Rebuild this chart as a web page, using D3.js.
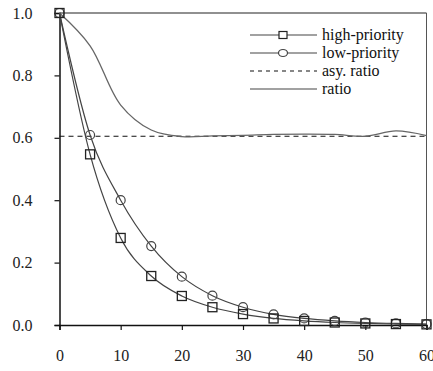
<!DOCTYPE html>
<html><head><meta charset="utf-8"><script src="https://cdn.jsdelivr.net/npm/d3@7"></script></head>
<body style="margin:0">
<svg id="chart" width="433" height="371" font-family="Liberation Serif" style="display:block;background:#fff"></svg>
<script>
// Time steps (x axis)
const steps = [0, 5, 10, 15, 20, 25, 30, 35, 40, 45, 50, 55, 60];
// Fraction remaining for each priority class
const highPriority = [1.0, 0.547, 0.279, 0.157, 0.093, 0.057, 0.035, 0.021, 0.013, 0.008, 0.005, 0.003, 0.002];
const lowPriority  = [1.0, 0.609, 0.400, 0.253, 0.155, 0.094, 0.057, 0.034, 0.021, 0.013, 0.008, 0.005, 0.003];
// Ratio of high to low priority, and its asymptotic value
const ratio = [1.0, 0.895, 0.705, 0.625, 0.604, 0.606, 0.608, 0.611, 0.612, 0.611, 0.605, 0.622, 0.607];
const asyRatio = 0.605;
// Tick labels
const xTicks = [0, 10, 20, 30, 40, 50, 60];
const yTicks = [0.0, 0.2, 0.4, 0.6, 0.8, 1.0];
const legendLabels = ["high-priority", "low-priority", "asy. ratio", "ratio"];

const svg = d3.select("#chart");
const x = d3.scaleLinear().domain([0, 60]).range([59.5, 426.5]);
const y = d3.scaleLinear().domain([0, 1]).range([325, 13]);

// Plot frame: top and right edges
svg.append("line").attr("x1", x(0)).attr("x2", x(60)).attr("y1", y(1)).attr("y2", y(1))
  .attr("stroke", "#222").attr("stroke-width", 1.2);
svg.append("line").attr("x1", x(60)).attr("x2", x(60)).attr("y1", y(1)).attr("y2", y(0))
  .attr("stroke", "#555").attr("stroke-width", 1);

// Axes
const xAxis = svg.append("g").attr("transform", `translate(0,${y(0)})`)
  .call(d3.axisBottom(x).tickValues(xTicks).tickSize(5).tickPadding(20).tickFormat(d3.format("d")));
const yAxis = svg.append("g").attr("transform", `translate(${x(0)},0)`)
  .call(d3.axisLeft(y).tickValues(yTicks).tickSize(5).tickPadding(22).tickFormat(d3.format(".1f")));
[xAxis, yAxis].forEach(g => {
  g.attr("font-family", "Liberation Serif").attr("font-size", 16);
  g.select(".domain").attr("stroke", "#111").attr("stroke-width", 1.5);
  g.selectAll(".tick line").attr("stroke", "#111").attr("stroke-width", 1.2);
  g.selectAll("text")
    .attr("font-family", "Liberation Serif")
    .style("font-family", "'Times New Roman'")
    .style("font-size", "16px").attr("fill", "#222");
});

const lineColor = "#444";

// Asymptotic ratio (dashed)
svg.append("line").attr("x1", x(0)).attr("x2", x(60)).attr("y1", y(asyRatio)).attr("y2", y(asyRatio))
  .attr("stroke", "#111").attr("stroke-width", 1.2).attr("stroke-dasharray", "5,4");

// Ratio (smoothed)
const smooth = d3.line().x((d, i) => x(steps[i])).y(d => y(d)).curve(d3.curveCatmullRom.alpha(0.5));
svg.append("path").datum(ratio).attr("d", smooth)
  .attr("fill", "none").attr("stroke", "#666").attr("stroke-width", 1.3);

// Priority series
const straight = d3.line().x((d, i) => x(steps[i])).y(d => y(d)).curve(d3.curveMonotoneX);
[lowPriority, highPriority].forEach(series => {
  svg.append("path").datum(series).attr("d", straight)
    .attr("fill", "none").attr("stroke", lineColor).attr("stroke-width", 1.2);
});

// Markers
svg.append("g").selectAll("circle").data(lowPriority).join("circle")
  .attr("cx", (d, i) => x(steps[i])).attr("cy", d => y(d)).attr("r", 4.5)
  .attr("fill", "none").attr("stroke", lineColor).attr("stroke-width", 1.2);
svg.append("g").selectAll("rect").data(highPriority).join("rect")
  .attr("x", (d, i) => x(steps[i]) - 4.5).attr("y", d => y(d) - 4.5)
  .attr("width", 9).attr("height", 9)
  .attr("fill", "none").attr("stroke", "#222").attr("stroke-width", 1.3);

// Legend
const legend = svg.append("g");
const rowY = [35, 53, 71, 89];
legend.selectAll("text").data(legendLabels).join("text")
  .attr("x", 322).attr("y", (d, i) => rowY[i] + 5)
  .attr("font-family", "Liberation Serif")
  .style("font-family", "'Times New Roman'").style("font-size", "16px")
  .attr("fill", "#111").text(d => d);
legendLabels.forEach((label, i) => {
  const ly = rowY[i];
  const ln = legend.append("line").attr("x1", 250).attr("x2", 317).attr("y1", ly).attr("y2", ly)
    .attr("stroke", i === 2 ? "#111" : "#444").attr("stroke-width", 1.2);
  if (i === 2) ln.attr("stroke-dasharray", "4,4");
  if (i === 0) legend.append("rect").attr("x", 279).attr("y", ly - 3.5).attr("width", 8).attr("height", 7)
    .attr("fill", "#fff").attr("stroke", "#222").attr("stroke-width", 1.2);
  if (i === 1) legend.append("ellipse").attr("cx", 283).attr("cy", ly).attr("rx", 4.5).attr("ry", 3.5)
    .attr("fill", "#fff").attr("stroke", "#444").attr("stroke-width", 1.2);
});
</script>
</body>
</html>
